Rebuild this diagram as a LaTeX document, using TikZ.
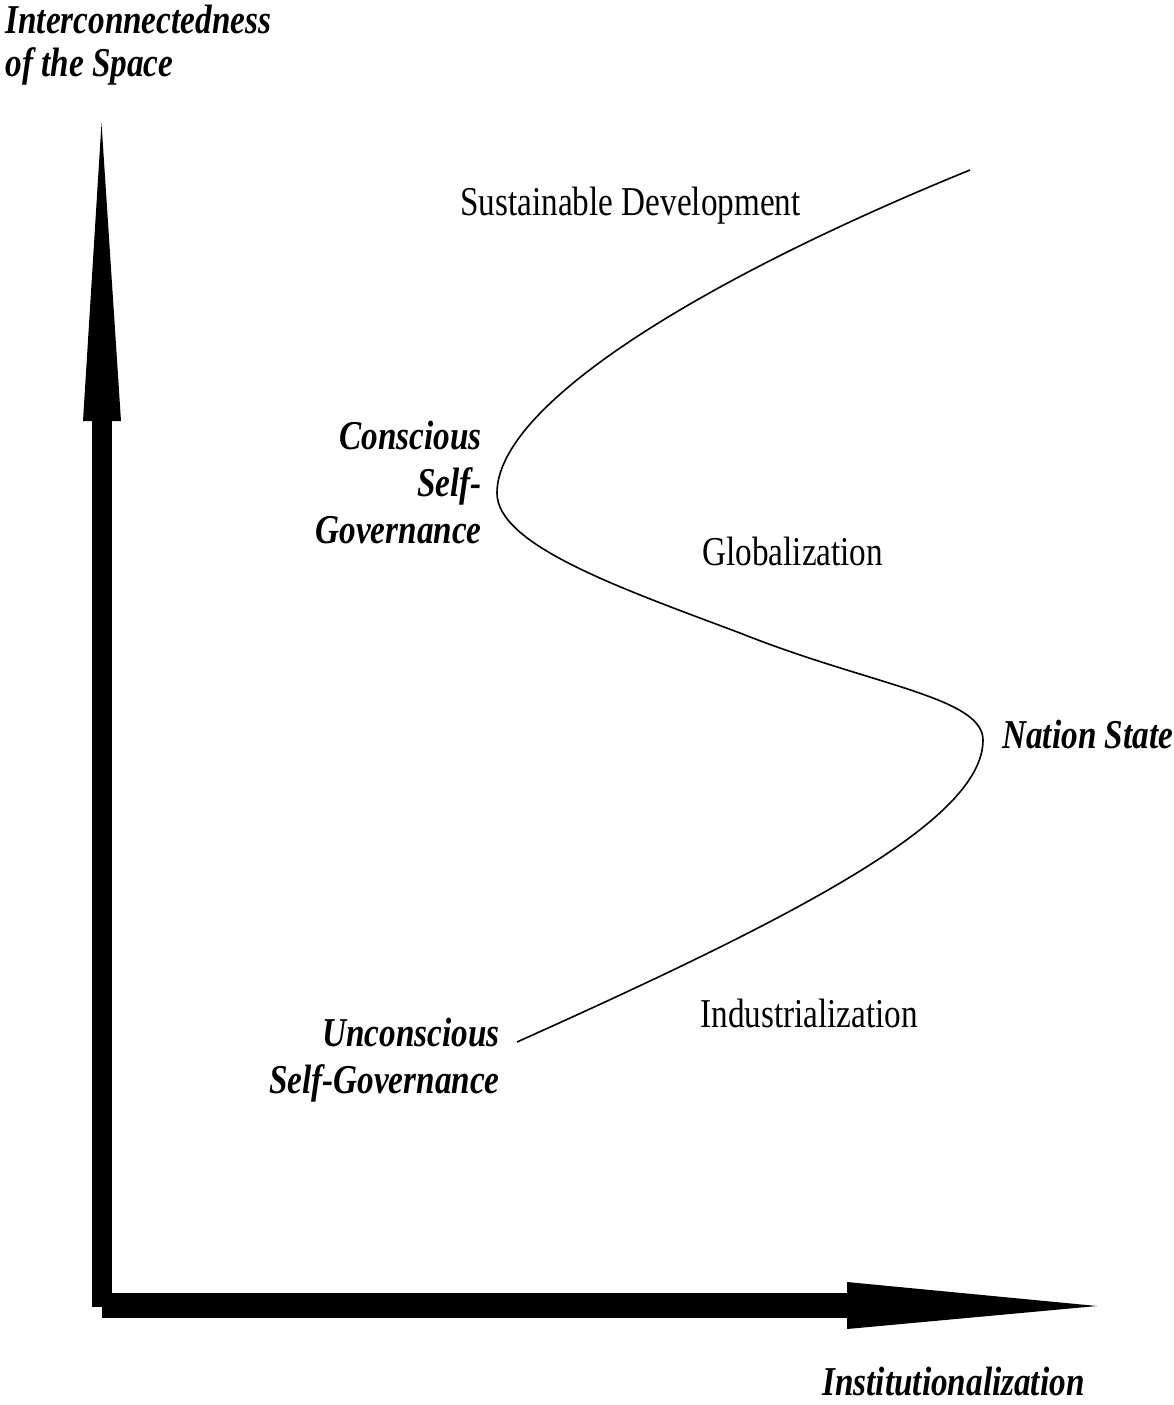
\documentclass[tikz,border=0pt]{standalone}
\usepackage{graphicx}
\usepackage{fontspec}
\setmainfont{Liberation Serif}
\newcommand{\sqz}[1]{\scalebox{0.81}[1]{#1}}
\begin{document}
\begin{tikzpicture}[x=0.5pt,y=-0.5pt,
  lbl/.style={inner sep=0pt, font=\fontsize{20.5}{23.5}\selectfont},
  blbl/.style={inner sep=0pt, font=\fontsize{20.5}{23.5}\selectfont\bfseries\itshape},
  curve/.style={line width=0.8pt, line join=round}]
\useasboundingbox (0,0) rectangle (1174,1405);

% axes
\coordinate (ytip) at (101.5,123);
\coordinate (xtip) at (1097,1306);
\coordinate (yb) at (112,420);
\coordinate (xb) at (848,1318);
\fill (92,1307) rectangle (yb);
\fill (83,421) -- (121,421) -- (ytip) -- cycle;
\fill (102,1293) rectangle (xb);
\fill (847,1282) -- (847,1329) -- (xtip) -- cycle;

% curve
\coordinate (c0) at (517,1042);
\coordinate (c1) at (983,740);
\coordinate (c2) at (740,633);
\coordinate (c3) at (497,493);
\coordinate (c5) at (970,170);
\draw[curve] (c0) .. controls (800,915) and (983,820) .. (c1)
  .. controls (983,697) and (870,685) .. (c2)
  .. controls (620,588) and (497,545) .. (c3)
  .. controls (497,405) and (700,280) .. (c5);

% labels
\node[blbl, anchor=base west, align=left] (yl) at (5,76)
  {\sqz{Interconnectedness}\\[-2pt]\sqz{of the Space}};
\node[blbl, anchor=base west] (xl) at (822,1395) {\sqz{Institutionalization}};
\node[lbl, anchor=base west] (sd) at (460,215) {\sqz{Sustainable Development}};
\node[blbl, anchor=base east, align=right] (csg) at (482,543)
  {\sqz{Conscious}\\\sqz{Self-}\\\sqz{Governance}};
\node[lbl, anchor=base west] (gl) at (702,565) {\sqz{Globalization}};
\node[blbl, anchor=base west] (ns) at (1002,748) {\sqz{Nation State}};
\node[blbl, anchor=base east, align=right] (usg) at (500,1093)
  {\sqz{Unconscious}\\\sqz{Self-Governance}};
\node[lbl, anchor=base west] (ind) at (700,1027) {\sqz{Industrialization}};
\end{tikzpicture}
\end{document}
